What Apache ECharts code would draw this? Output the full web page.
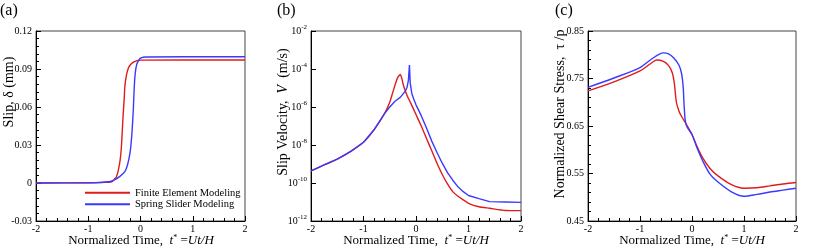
<!DOCTYPE html>
<html><head><meta charset="utf-8">
<script src="https://cdn.jsdelivr.net/npm/echarts@6/dist/echarts.min.js"></script>
<style>html,body{margin:0;padding:0;background:#fff}#c{width:830px;height:250px}</style>
</head><body><div id="c"></div>
<script>
// ---- Panel (a): slip (mm)
const tSlipFE = [-2,-1,-0.7,-0.55,-0.5,-0.46,-0.42,-0.39,-0.37,-0.35,-0.33,-0.31,-0.3,-0.27,-0.23,-0.2,-0.15,-0.1,-0.05,0,2];
const slipFE  = [0,0.0002,0.0005,0.001,0.003,0.005,0.011,0.018,0.026,0.04,0.055,0.068,0.076,0.085,0.091,0.093,0.095,0.096,0.0968,0.097,0.0971];
const tSlipSS = [-2,-1,-0.6,-0.5,-0.4,-0.3,-0.25,-0.2,-0.17,-0.14,-0.12,-0.1,-0.07,-0.03,0,0.1,2];
const slipSS  = [0,0.0002,0.001,0.0025,0.005,0.009,0.014,0.024,0.036,0.056,0.075,0.087,0.094,0.097,0.0985,0.0995,0.0997];

// ---- Panel (b): slip velocity (m/s)
const tVelFE = [-2,-1.75,-1.5,-1.25,-1,-0.8,-0.6,-0.5,-0.45,-0.4,-0.35,-0.3,-0.27,-0.24,-0.17,-0.1,0,0.1,0.2,0.3,0.4,0.5,0.6,0.7,0.8,0.9,1.0,1.2,1.4,1.7,2.0];
const velFE  = [4.3e-10,8.9e-10,1.8e-9,4.5e-9,1.4e-8,6.3e-8,4.5e-7,1.8e-6,5.0e-6,1.4e-5,3.5e-5,5.2e-5,3.2e-5,1.4e-5,4.0e-6,1.6e-6,4.0e-7,1.0e-7,2.2e-8,5.0e-9,1.1e-9,2.8e-10,8.9e-11,3.5e-11,2.0e-11,1.3e-11,8.5e-12,5.6e-12,4.7e-12,3.6e-12,3.5e-12];
const tVelSS = [-2,-1.75,-1.5,-1.25,-1,-0.8,-0.6,-0.5,-0.4,-0.3,-0.2,-0.17,-0.145,-0.125,-0.11,-0.08,-0.04,0,0.1,0.2,0.3,0.4,0.5,0.6,0.7,0.8,0.9,1.0,1.2,1.4,1.7,2.0];
const velSS  = [4.3e-10,8.9e-10,1.8e-9,4.5e-9,1.4e-8,6.3e-8,4.5e-7,1.0e-6,2.0e-6,3.2e-6,7.1e-6,1.1e-5,2.5e-5,1.6e-4,1.8e-5,5.2e-6,2.5e-6,1.3e-6,3.5e-7,7.9e-8,1.6e-8,4.0e-9,1.1e-9,3.5e-10,1.4e-10,6.3e-11,3.5e-11,2.2e-11,1.5e-11,1.05e-11,1.0e-11,9.5e-12];

// ---- Panel (c): normalized shear stress
const tTauFE = [-2,-1.5,-1,-0.8,-0.68,-0.55,-0.45,-0.38,-0.34,-0.3,-0.25,-0.2,-0.1,0,0.1,0.2,0.35,0.5,0.75,1.0,1.25,1.5,1.75,2.0];
const tauFE  = [0.724,0.743,0.766,0.781,0.789,0.786,0.777,0.762,0.740,0.700,0.681,0.670,0.652,0.632,0.606,0.584,0.560,0.545,0.527,0.519,0.520,0.524,0.528,0.531];
const tTauSS = [-2,-1.5,-1,-0.8,-0.55,-0.45,-0.35,-0.25,-0.2,-0.17,-0.15,-0.13,-0.1,0,0.1,0.2,0.35,0.5,0.75,1.0,1.25,1.5,1.75,2.0];
const tauSS  = [0.7315,0.751,0.773,0.789,0.804,0.802,0.793,0.778,0.760,0.733,0.690,0.662,0.649,0.632,0.603,0.578,0.548,0.532,0.512,0.502,0.506,0.511,0.515,0.519];

const names = ['Finite Element Modeling','Spring Slider Modeling'];
const RED = '#e01b1b', BLUE = '#3a3aff';
const FF = "'Liberation Serif','Times New Roman',serif";

const pair = (t, v) => t.map((x, i) => [x, v[i]]);
const chart = echarts.init(document.getElementById('c'));

const grids = [
  {left:36, top:31, width:209, height:190},
  {left:311, top:31, width:210, height:190},
  {left:588, top:31, width:208, height:190}
].map(g => Object.assign({show:true, borderColor:'#444', borderWidth:1, backgroundColor:'transparent'}, g));

const axisCommon = {
  axisLine:{show:true, onZero:false, lineStyle:{color:'#000', width:1}},
  axisTick:{show:true, inside:true, length:5, lineStyle:{color:'#000'}},
  splitLine:{show:false},
  axisLabel:{color:'#000', fontFamily:FF, fontSize:10, margin:4}
};
const mk = (o) => Object.assign({}, JSON.parse(JSON.stringify(axisCommon)), o);

const xAxes = [0,1,2].map(i => mk({
  gridIndex:i, type:'value', min:-2, max:2, interval:1,
  minorTick:{show:true, splitNumber:5, length:3, lineStyle:{color:'#000'}},
  axisLabel:{color:'#000', fontFamily:FF, fontSize:10, margin:3, formatter: v => String(v)}
}));

const yAxes = [
  mk({gridIndex:0, type:'value', min:-0.03, max:0.12, interval:0.03,
      minorTick:{show:true, splitNumber:5, length:3, lineStyle:{color:'#000'}},
      axisLabel:{color:'#000', fontFamily:FF, fontSize:10, margin:4,
        formatter: v => Math.abs(v) < 1e-9 ? '0' : v.toFixed(2)}}),
  mk({gridIndex:1, type:'log', logBase:10, min:1e-12, max:1e-2, interval:2,
      axisLabel:{color:'#000', fontFamily:FF, fontSize:10, margin:4,
        formatter: v => '{b|10}{s|' + Math.round(Math.log10(v)) + '}',
        rich:{b:{fontSize:10, fontFamily:FF, color:'#000', lineHeight:14}, s:{fontSize:7, fontFamily:FF, color:'#000', verticalAlign:'top', lineHeight:14}}}}),
  mk({gridIndex:2, type:'value', min:0.45, max:0.85, interval:0.1,
      minorTick:{show:true, splitNumber:5, length:3, lineStyle:{color:'#000'}},
      axisLabel:{color:'#000', fontFamily:FF, fontSize:10, margin:4, formatter: v => v.toFixed(2)}})
];

const line = (name, color, data, i, smooth) => ({
  name, type:'line', xAxisIndex:i, yAxisIndex:i, data, showSymbol:false, symbol:'none',
  smooth, lineStyle:{color, width:1.4}, itemStyle:{color}, animation:false
});

const series = [
  line(names[0], RED, pair(tSlipFE, slipFE), 0, 0.35),
  line(names[1], BLUE, pair(tSlipSS, slipSS), 0, 0.35),
  line(names[0], RED, pair(tVelFE, velFE), 1, 0.2),
  line(names[1], BLUE, pair(tVelSS, velSS), 1, false),
  line(names[0], RED, pair(tTauFE, tauFE), 2, 0.3),
  line(names[1], BLUE, pair(tTauSS, tauSS), 2, 0.3)
];

const xTitle = (cx) => ({
  type:'text', x:cx, y:241,
  style:{text:'Normalized Time,  {i|t}{s|*}{n| =}{i|Ut/H}', fontFamily:FF, fontSize:13, fill:'#000',
    align:'center', verticalAlign:'middle',
    rich:{i:{fontStyle:'italic', fontFamily:FF, fontSize:13}, n:{fontFamily:FF, fontSize:13},
          s:{fontSize:8, fontFamily:FF, verticalAlign:'top', lineHeight:15}}}
});
const yTitle = (cx, cy, text, rich) => ({
  type:'text', x:cx, y:cy, rotation:Math.PI/2,
  style:{text, fontFamily:FF, fontSize:14, fill:'#000', align:'center', verticalAlign:'middle', rich}
});
const panel = (x, t) => ({type:'text', x, y:3, style:{text:t, fontFamily:FF, fontSize:16, fill:'#000'}});

chart.setOption({
  animation:false,
  textStyle:{fontFamily:FF},
  grid: grids,
  xAxis: xAxes,
  yAxis: yAxes,
  legend:{
    left:80, top:182, orient:'vertical', itemWidth:45, itemHeight:2, itemGap:0, icon:'rect',
    textStyle:{fontFamily:FF, fontSize:10.5, color:'#000', lineHeight:11.5, padding:[0,0,0,0]},
    data: names
  },
  series,
  graphic:[
    panel(0,'(a)'), panel(277,'(b)'), panel(555,'(c)'),
    xTitle(141), xTitle(416), xTitle(692),
    yTitle(9, 92, 'Slip, δ (mm)'),
    yTitle(283, 112, 'Slip Velocity,  {i|V}  (m/s)', {i:{fontStyle:'italic', fontFamily:FF, fontSize:14}}),
    yTitle(560, 114, 'Normalized Shear Stress,  τ /p')
  ]
});
</script></body></html>
